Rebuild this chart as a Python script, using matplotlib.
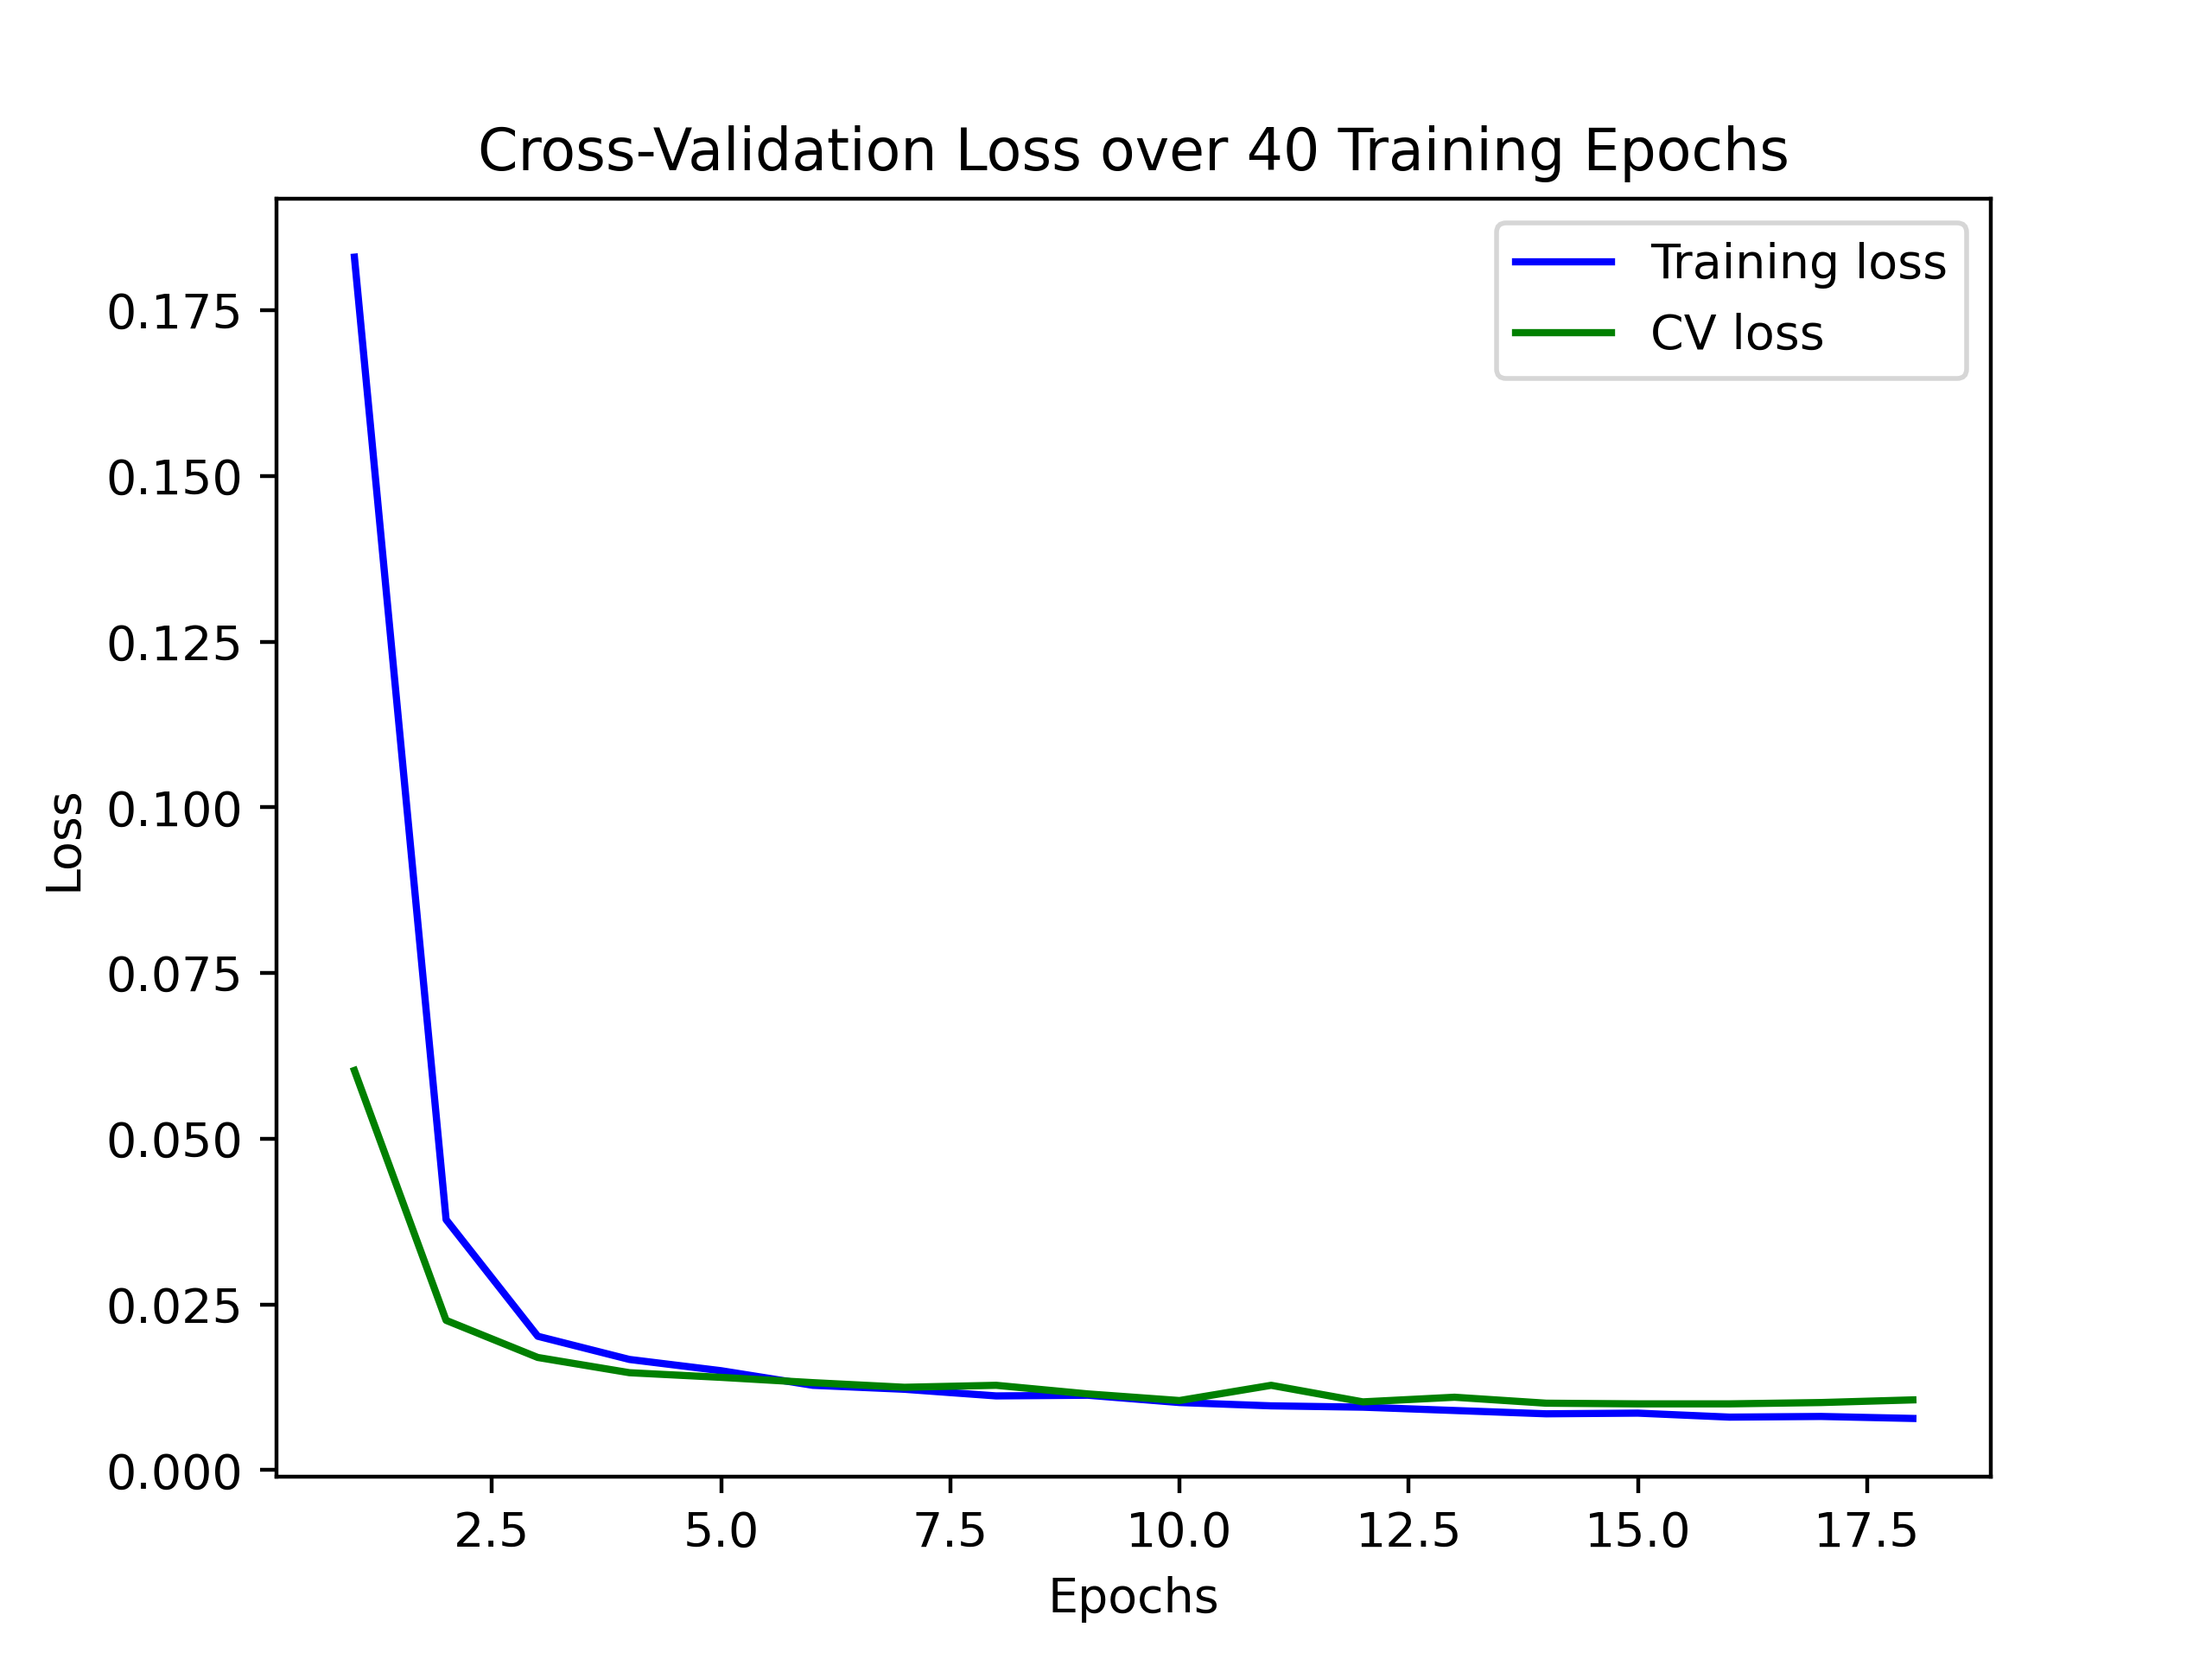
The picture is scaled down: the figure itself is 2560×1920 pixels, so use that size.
import matplotlib
matplotlib.use("Agg")
import matplotlib.pyplot as plt

epochs = list(range(1, 19))
train_loss = [0.183, 0.0378, 0.0202, 0.0167, 0.0150, 0.0128, 0.0122, 0.0112, 0.0113,
              0.0102, 0.0097, 0.0095, 0.0090, 0.0085, 0.0086, 0.0080, 0.0081, 0.0078]
cv_loss = [0.0603, 0.0226, 0.0170, 0.0147, 0.0140, 0.0132, 0.0125, 0.0128, 0.0115,
           0.0105, 0.0128, 0.0103, 0.0110, 0.0101, 0.0100, 0.0100, 0.0102, 0.0106]

fig, ax = plt.subplots(figsize=(6.4, 4.8), dpi=400)
ax.plot(epochs, train_loss, color='b', label='Training loss')
ax.plot(epochs, cv_loss, color='g', label='CV loss')
ax.set_title('Cross-Validation Loss over 40 Training Epochs')
ax.set_xlabel('Epochs')
ax.set_ylabel('Loss')
ax.legend(loc='upper right')
fig.savefig('out.png')
